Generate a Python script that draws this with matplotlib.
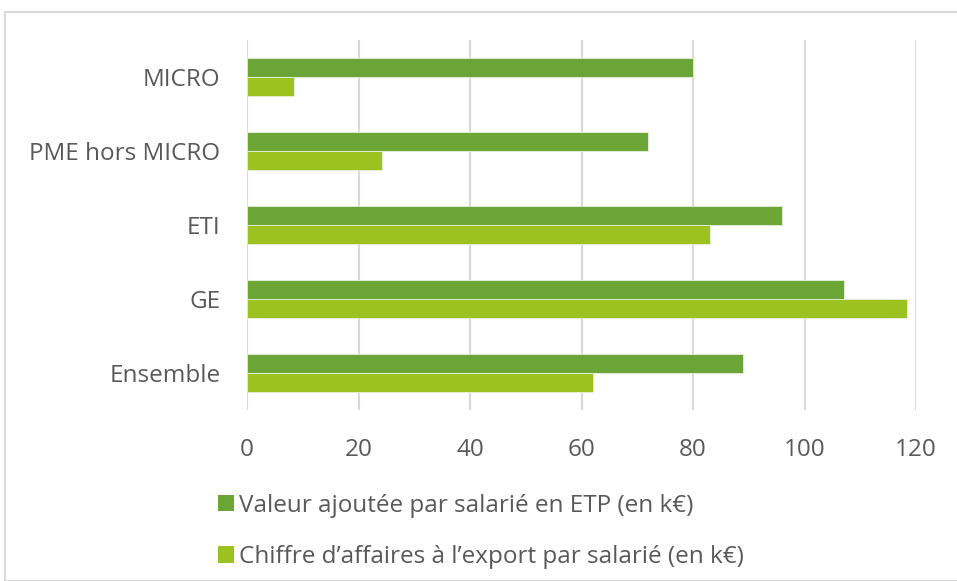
import matplotlib
matplotlib.use("Agg")
import matplotlib.pyplot as plt
from matplotlib.patches import Rectangle, Patch
import numpy as np

plt.rcParams['font.family'] = ['Open Sans', 'DejaVu Sans']

categories = ["MICRO", "PME hors MICRO", "ETI", "GE", "Ensemble"]
valeur_ajoutee = [80, 72, 96, 107, 89]
ca_export = [8.5, 24.3, 83, 118.4, 62]
series_labels = ["Valeur ajoutée par salarié en ETP (en k€)",
                 "Chiffre d’affaires à l’export par salarié (en k€)"]
xticks = [0, 20, 40, 60, 80, 100, 120]

dark = "#6AA535"
light = "#9BC220"
text_c = "#595959"
fs = 17.5

W, H = 957, 581
fig = plt.figure(figsize=(W/100, H/100), dpi=100)
fig.patches.append(Rectangle((5/W, 0), 1, 1 - 12/H, transform=fig.transFigure,
                             fill=False, edgecolor="#D9D9D9", linewidth=1.5))

ax = fig.add_axes([247/W, 1 - 410/H, (916-247)/W, (410-40)/H])
y = np.arange(len(categories))
bh = 0.255
ax.barh(y - bh/2, valeur_ajoutee, height=bh, color=dark, edgecolor="#E8F0DE", linewidth=0.6, zorder=3)
ax.barh(y + bh/2, ca_export, height=bh, color=light, edgecolor="#E8F0DE", linewidth=0.6, zorder=3)
ax.set_ylim(len(categories) - 0.5, -0.5)
ax.set_xlim(0, 120)
ax.set_xticks(xticks)
ax.set_xticklabels([str(v) for v in xticks])
ax.set_yticks(y)
ax.set_yticklabels(categories)
ax.grid(axis='x', color="#D9D9D9", linewidth=1.5, zorder=0)
ax.set_axisbelow(True)
for s in ax.spines.values():
    s.set_visible(False)
ax.tick_params(axis='both', length=0, labelsize=fs, colors=text_c)
ax.tick_params(axis='x', pad=20)
ax.tick_params(axis='y', pad=19)

handles = [Patch(facecolor=dark, edgecolor='none'), Patch(facecolor=light, edgecolor='none')]
fig.legend(handles, series_labels, loc='upper left', bbox_to_anchor=(196/W, 1 - 472/H),
           frameon=False, fontsize=fs, handlelength=0.65, handleheight=0.65,
           handletextpad=0.2, labelspacing=1.12, labelcolor=text_c)

fig.savefig("out.png", dpi=100)
